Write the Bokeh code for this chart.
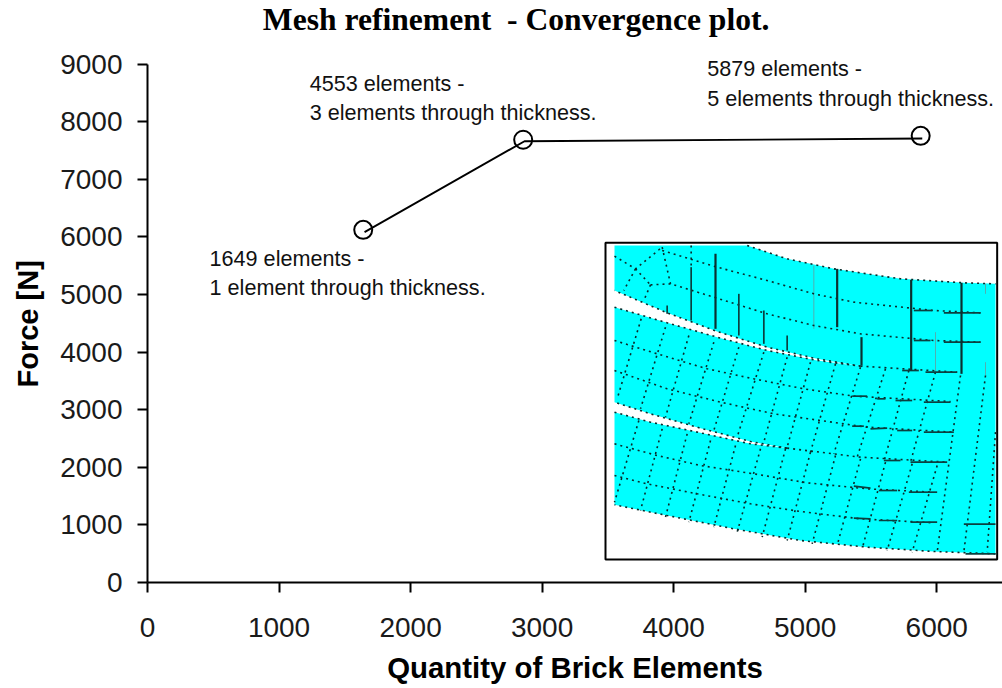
from bokeh.plotting import figure
from bokeh.models import Range1d, FixedTicker, Title
from bokeh.core.properties import value
from bokeh.embed import file_html
from bokeh.resources import INLINE

title_text = "Mesh refinement \u00a0- Convergence plot."
x_label = "Quantity of Brick Elements"
y_label = "Force [N]"
x_ticks = [0, 1000, 2000, 3000, 4000, 5000, 6000]
y_ticks = [0, 1000, 2000, 3000, 4000, 5000, 6000, 7000, 8000, 9000]

# The line sits slightly below its circles in the picture, so each has its own values
line_elements = [1650, 2866, 5890]
line_force = [6082, 7661, 7708]
marker_elements = [1640, 2856, 5878]
marker_force = [6123, 7686, 7755]

note_x = [1233, 1233, 4255, 4255, 472, 472]
note_y = [8668, 8165, 8928, 8408, 5633, 5113]
note_text = ["4553 elements -", "3 elements through thickness.",
             "5879 elements -", "5 elements through thickness.",
             "1649 elements -", "1 element through thickness."]

# Inset picture traced in its own units (x 0..1206, y 0..990 downwards)
inset_box_x = [15, 1190, 1190, 15]
inset_box_y = [22, 22, 972, 972]
top_edge = [(42, 30), (440, 30), (560, 70), (700, 100), (900, 130), (1090, 142), (1185, 145)]
bottom_edge = [(1185, 955), (1000, 948), (800, 935), (600, 915), (400, 880), (200, 840), (42, 808)]
slit2_lower = [(42, 530), (150, 560), (300, 592), (450, 625), (560, 638)]
slit2_upper = [(560, 638), (450, 618), (300, 578), (150, 535), (42, 500)]
slit1_lower = [(42, 215), (200, 262), (350, 305), (500, 345), (650, 375), (780, 392)]
slit1_upper = [(780, 392), (650, 370), (500, 335), (350, 288), (200, 232), (42, 165)]
mesh_outline = top_edge + bottom_edge + slit2_lower + slit2_upper + slit1_lower + slit1_upper

dotted_curves = [
    top_edge[1:], bottom_edge, slit1_lower, slit1_upper, slit2_lower, slit2_upper,
    [(560, 638), (780, 665), (1040, 680)],
    [(780, 392), (1070, 410)],
    [(42, 625), (170, 660), (300, 690), (460, 715), (620, 742), (800, 760), (1000, 770)],
    [(42, 720), (140, 745), (290, 775), (450, 805), (600, 828), (780, 850), (1000, 862)],
    [(42, 315), (170, 355), (320, 400), (460, 430), (610, 460), (760, 482), (1050, 498)],
    [(42, 405), (200, 460), (360, 500), (520, 535), (660, 555), (800, 575), (1060, 590)],
    [(185, 45), (350, 95), (500, 135), (640, 175), (760, 200), (1000, 225), (1140, 232)],
    [(150, 148), (210, 145), (340, 185), (500, 235), (640, 270), (780, 295), (1000, 315), (1140, 320)],
    [(42, 62), (105, 100), (185, 35)], [(105, 100), (70, 165)], [(105, 100), (150, 148)],
    [(185, 35), (210, 145)], [(150, 148), (130, 195)], [(272, 30), (272, 95)],
    [(122, 250), (50, 490)], [(195, 275), (120, 520)], [(265, 300), (195, 545)],
    [(340, 320), (265, 565)], [(415, 335), (340, 585)], [(490, 350), (410, 605)],
    [(560, 365), (490, 620)], [(630, 380), (560, 635)], [(705, 385), (630, 650)],
    [(780, 395), (700, 655)], [(855, 400), (770, 665)], [(925, 405), (850, 680)],
    [(1005, 410), (930, 680)],
    [(115, 555), (42, 800)], [(185, 580), (120, 825)], [(260, 595), (195, 845)],
    [(330, 615), (265, 860)], [(405, 630), (340, 875)], [(480, 640), (410, 890)],
    [(555, 640), (485, 905)], [(630, 650), (560, 915)], [(705, 660), (635, 925)],
    [(780, 670), (710, 930)], [(855, 680), (785, 940)], [(935, 685), (860, 945)],
    [(1010, 690), (935, 950)], [(1080, 420), (1010, 950)], [(1155, 420), (1090, 950)],
    [(1185, 590), (1160, 950)],
]
solid_lines = [
    [(272, 95), (272, 255)], [(415, 175), (415, 300)],
    [(490, 225), (490, 325)], [(560, 300), (560, 345)],
    [(200, 210), (200, 235)],
    [(940, 225), (995, 225)], [(1030, 232), (1140, 232)], [(940, 315), (990, 315)],
    [(1030, 320), (1140, 320)], [(905, 405), (955, 405)], [(975, 410), (1070, 410)],
    [(1090, 866), (1185, 866)], [(1095, 955), (1185, 955)], [(930, 860), (1010, 860)],
    [(970, 590), (1060, 590)], [(970, 500), (1050, 500)], [(925, 770), (1010, 770)],
    [(835, 765), (890, 765)], [(760, 752), (810, 758)], [(810, 580), (860, 578)],
    [(890, 585), (935, 585)], [(755, 572), (790, 572)], [(830, 490), (855, 490)],
    [(885, 495), (935, 495)], [(755, 482), (800, 482)], [(930, 680), (1040, 680)],
    [(850, 675), (900, 675)], [(835, 855), (890, 855)], [(760, 848), (810, 850)],
]
thick_lines = [[(710, 100), (710, 275)], [(932, 133), (932, 405)], [(783, 305), (783, 390)],
               [(345, 55), (345, 280)], [(1083, 142), (1083, 415)]]
faint_lines = [[(640, 90), (640, 280)], [(1005, 290), (1005, 410)],
               [(1155, 145), (1155, 175)], [(1155, 380), (1155, 420)]]

# The plot area runs to the top of the page so the title and notes stay inside it;
# the axis itself stops at 9000 through its bounds.
p = figure(width=1002, height=688, output_backend="svg", toolbar_location=None,
           x_range=Range1d(0, 6500), y_range=Range1d(0, 10104),
           min_border_left=147, min_border_right=0, min_border_top=0, min_border_bottom=106)
p.extra_x_ranges = {"inset": Range1d(-1359, 1206)}
p.extra_y_ranges = {"inset": Range1d(1041, -705)}
p.grid.visible = False
p.outline_line_color = None
p.background_fill_color = "white"

for ax, ticks in ((p.xaxis[0], x_ticks), (p.yaxis[0], y_ticks)):
    ax.ticker = FixedTicker(ticks=ticks)
    ax.major_label_text_font = "Liberation Sans"
    ax.major_label_text_font_size = "28px"
    ax.major_label_text_color = "#1a1a1a"
    ax.axis_line_width = 2
    ax.axis_line_color = "black"
    ax.major_tick_line_width = 2
    ax.major_tick_line_color = "black"
    ax.major_tick_in = 0
    ax.major_tick_out = 10
    ax.minor_tick_line_color = None
p.xaxis[0].axis_label = x_label
p.xaxis[0].axis_label_text_font = "Liberation Sans"
p.xaxis[0].axis_label_text_font_style = "bold"
p.xaxis[0].axis_label_text_color = "black"
p.xaxis[0].axis_label_text_font_size = "29.4px"
p.yaxis[0].bounds = (y_ticks[0], y_ticks[-1])
p.yaxis[0].major_label_orientation = "horizontal"
p.yaxis[0].major_label_standoff = 15
p.xaxis[0].major_label_standoff = 25
p.xaxis[0].axis_label_standoff = 11

# Sits beside the y axis, centred on its 0..9000 span rather than on the taller plot area
p.add_layout(Title(text=y_label, align="left", offset=195, standoff=23, vertical_align="top",
                   text_font="Liberation Sans", text_font_size="29px",
                   text_font_style="bold", text_color="black"), "left")


def xs_of(lines):
    return [[pt[0] for pt in line] for line in lines]


def ys_of(lines):
    return [[pt[1] for pt in line] for line in lines]


inset = dict(x_range_name="inset", y_range_name="inset")
p.patch(inset_box_x, inset_box_y, fill_color="white", line_color="black", line_width=2, **inset)
p.patch([pt[0] for pt in mesh_outline], [pt[1] for pt in mesh_outline],
        fill_color="#00ffff", line_color=None, **inset)
p.multi_line(xs_of(faint_lines), ys_of(faint_lines), line_color="#4fb0b0", line_width=1, **inset)
p.multi_line(xs_of(dotted_curves), ys_of(dotted_curves), line_color="#0a2a2a",
             line_width=1.6, line_dash="2 4", **inset)
p.multi_line(xs_of(solid_lines), ys_of(solid_lines), line_color="#0b4040", line_width=1.7, **inset)
p.multi_line(xs_of(thick_lines), ys_of(thick_lines), line_color="#0b3030", line_width=2.2, **inset)

p.line(line_elements, line_force, line_color="black", line_width=1.9)
p.scatter(marker_elements, marker_force, marker="circle", size=18, fill_color=None,
          line_color="black", line_width=2)

p.text(note_x, note_y, text=note_text, text_font=value("Liberation Sans"),
       text_font_size="21.6px", text_baseline="middle", text_align="left", text_color="#111111")
p.text([877], [9775], text=[title_text], text_font=value("Liberation Serif"),
       text_font_size="31.6px", text_font_style="bold", text_baseline="middle",
       text_align="left", text_color="black")

open("out.html", "w").write(file_html(p, INLINE))
